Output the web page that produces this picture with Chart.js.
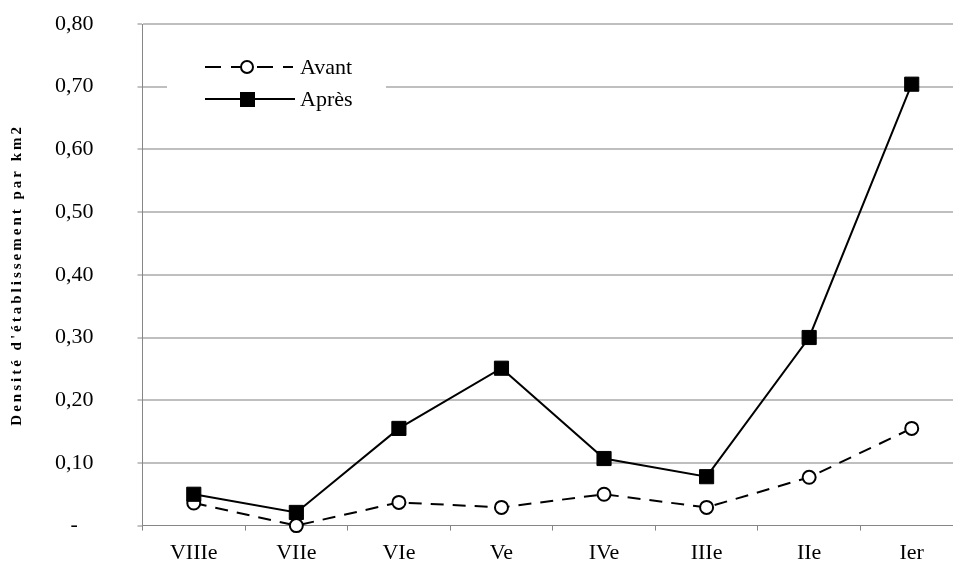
<!DOCTYPE html>
<html>
<head>
<meta charset="utf-8">
<script src="https://cdn.jsdelivr.net/npm/chart.js@4/dist/chart.umd.min.js"></script>
<style>
  html, body { margin: 0; padding: 0; background: #fff; overflow: hidden; }
  #densite { display: block; }
</style>
</head>
<body>
<canvas id="densite" width="974" height="580" style="width:974px;height:580px"></canvas>
<script>
var categories = ['VIIIe', 'VIIe', 'VIe', 'Ve', 'IVe', 'IIIe', 'IIe', 'Ier'];
var avant = [0.036, 0, 0.037, 0.029, 0.05, 0.029, 0.077, 0.155];
var apres = [0.05, 0.021, 0.155, 0.251, 0.107, 0.078, 0.30, 0.704];
var seriesNames = ['Avant', 'Après'];
var yTitle = "Densité d'établissement par km2";

var serif = '"Liberation Serif", "Times New Roman", serif';
var axisGray = '#868686';
var gridGray = '#bfbfbf';

// legend box + rotated axis title, drawn by hand to match the Excel look
var excelBits = {
    id: 'excelBits',
    afterDraw: function (chart) {
        var ctx = chart.ctx;
        var area = chart.chartArea;
        ctx.save();
        ctx.fillStyle = '#fff';
        ctx.fillRect(167, 50, 219, 65);

        // Avant sample
        ctx.strokeStyle = '#000';
        ctx.lineWidth = 2;
        ctx.setLineDash([16, 10]);
        ctx.beginPath();
        ctx.moveTo(205, 67);
        ctx.lineTo(293, 67);
        ctx.stroke();
        ctx.setLineDash([]);
        ctx.beginPath();
        ctx.arc(247, 67, 6, 0, Math.PI * 2);
        ctx.fillStyle = '#fff';
        ctx.fill();
        ctx.stroke();

        // Après sample
        ctx.beginPath();
        ctx.moveTo(205, 99);
        ctx.lineTo(295, 99);
        ctx.stroke();
        ctx.fillStyle = '#000';
        ctx.fillRect(240, 92, 15, 15);

        ctx.font = '22px ' + serif;
        ctx.textBaseline = 'middle';
        ctx.fillText(seriesNames[0], 300, 68);
        ctx.fillText(seriesNames[1], 300, 100);

        // y title
        ctx.translate(17, (area.top + area.bottom) / 2);
        ctx.rotate(-Math.PI / 2);
        ctx.font = 'bold 15px ' + serif;
        ctx.letterSpacing = '3px';
        ctx.textAlign = 'center';
        ctx.fillText(yTitle, 0, 0);
        ctx.restore();
    }
};

new Chart(document.getElementById('densite').getContext('2d'), {
    type: 'line',
    data: {
        labels: categories,
        datasets: [{
            label: seriesNames[1],
            data: apres,
            borderColor: '#000',
            borderWidth: 2,
            pointStyle: 'rect',
            pointRadius: 10,
            pointBorderWidth: 1,
            pointBackgroundColor: '#000',
            pointBorderColor: '#000',
            tension: 0,
            clip: false,
            order: 1
        }, {
            label: seriesNames[0],
            data: avant,
            borderColor: '#000',
            borderWidth: 2,
            borderDash: [13, 9],
            pointStyle: 'circle',
            pointRadius: 6.5,
            pointBorderWidth: 2,
            pointBackgroundColor: '#fff',
            pointBorderColor: '#000',
            tension: 0,
            clip: false,
            order: 2
        }]
    },
    options: {
        responsive: false,
        animation: false,
        layout: { padding: { left: 11, top: 24, right: 0, bottom: 5 } },
        plugins: {
            legend: { display: false },
            tooltip: { enabled: false }
        },
        scales: {
            x: {
                offset: true,
                afterFit: function (s) { s.paddingLeft = 0; s.paddingRight = 0; },
                grid: {
                    offset: true,
                    drawOnChartArea: false,
                    tickLength: 5,
                    tickColor: axisGray
                },
                border: { color: axisGray, width: 1 },
                ticks: {
                    color: '#000',
                    padding: 9,
                    font: { family: serif, size: 22 }
                }
            },
            y: {
                min: 0,
                max: 0.8,
                afterFit: function (s) { s.paddingTop = 0; s.paddingBottom = 0; },
                grid: {
                    color: function (c) { return c.tick && c.tick.value === 0 ? 'rgba(0,0,0,0)' : gridGray; },
                    lineWidth: 2,
                    tickLength: 5,
                    tickColor: axisGray,
                    tickWidth: 1
                },
                border: { color: axisGray, width: 1 },
                ticks: {
                    stepSize: 0.1,
                    color: '#000',
                    padding: 44,
                    crossAlign: 'center',
                    font: { family: serif, size: 22 },
                    callback: function (v) {
                        return Math.abs(v) < 1e-9 ? '-' : v.toFixed(2).replace('.', ',');
                    }
                }
            }
        }
    },
    plugins: [excelBits]
});
</script>
</body>
</html>
